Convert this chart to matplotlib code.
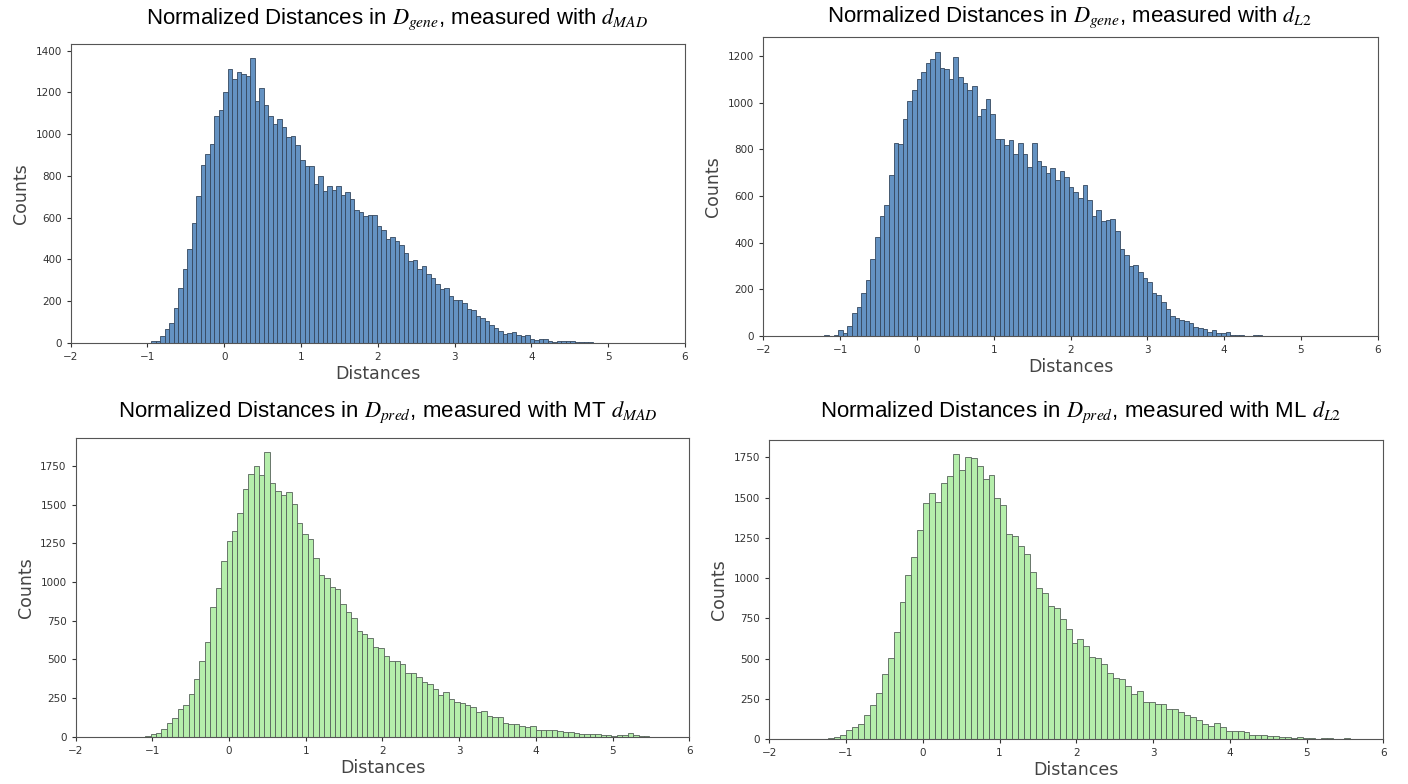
import matplotlib
matplotlib.use("Agg")
import matplotlib.pyplot as plt
import numpy as np

#######################################
#### Data (bar counts)
#######################################
gene_mad_range = (-0.95, 4.80)
gene_mad_counts = [8, 8, 35, 67, 94, 168, 263, 353, 448, 575, 705, 854, 906, 953, 1088,
                   1117, 1202, 1312, 1264, 1296, 1288, 1280, 1363, 1160, 1221, 1141, 1088,
                   1048, 1074, 1034, 985, 990, 950, 875, 849, 849, 763, 798, 726, 753, 734,
                   753, 710, 722, 689, 638, 627, 610, 611, 611, 562, 543, 500, 506, 490,
                   468, 431, 391, 399, 354, 367, 332, 310, 282, 259, 263, 223, 204, 204,
                   193, 163, 158, 128, 120, 104, 88, 70, 59, 45, 46, 51, 37, 32, 37, 21,
                   16, 19, 19, 8, 5, 8, 8, 8, 8, 3, 3, 3, 3]

gene_l2_range = (-1.205, 4.50)
gene_l2_counts = [4, 1, 3, 26, 14, 44, 97, 126, 183, 240, 329, 426, 514, 560, 690, 826,
                  821, 930, 1007, 1054, 1100, 1133, 1171, 1187, 1219, 1147, 1143, 1100,
                  1197, 1109, 1083, 1054, 1071, 944, 973, 1016, 950, 846, 846, 819, 841,
                  780, 826, 780, 726, 826, 751, 729, 700, 719, 669, 709, 680, 640, 619,
                  593, 647, 583, 516, 540, 493, 497, 501, 450, 374, 346, 301, 304, 276,
                  247, 233, 183, 176, 144, 116, 87, 79, 69, 64, 57, 40, 34, 29, 19, 26,
                  11, 11, 16, 3, 3, 4, 1, 0, 3, 3]

pred_mad_range = (-1.094, 5.48)
pred_mad_counts = [6, 17, 22, 47, 90, 118, 177, 205, 276, 375, 489, 610, 840, 959, 1138,
                   1265, 1330, 1444, 1599, 1698, 1750, 1694, 1841, 1642, 1586, 1562, 1584,
                   1502, 1379, 1308, 1280, 1153, 1045, 1024, 965, 953, 856, 804, 765, 683,
                   662, 640, 582, 575, 524, 491, 491, 470, 409, 409, 388, 356, 340, 306,
                   267, 291, 241, 226, 216, 205, 190, 162, 168, 134, 127, 127, 91, 82, 82,
                   71, 60, 71, 41, 41, 41, 41, 39, 30, 28, 24, 19, 19, 19, 17, 13, 11, 6,
                   13, 13, 22, 9, 6, 6]

pred_l2_range = (-1.23, 5.57)
pred_l2_counts = [4, 14, 25, 56, 72, 93, 149, 211, 284, 402, 505, 667, 853, 1019, 1133,
                  1298, 1464, 1530, 1474, 1592, 1633, 1770, 1675, 1750, 1744, 1696, 1613,
                  1640, 1495, 1453, 1277, 1263, 1199, 1153, 1037, 936, 907, 826, 812, 743,
                  681, 594, 619, 578, 511, 505, 464, 408, 381, 373, 331, 280, 300, 232,
                  228, 215, 215, 184, 184, 170, 149, 135, 118, 93, 81, 101, 72, 52, 52,
                  52, 43, 25, 25, 25, 21, 19, 14, 10, 8, 14, 8, 4, 0, 4, 4, 0, 0, 4]

titles = [r"Normalized Distances in $D_{gene}$, measured with $d_{MAD}$",
          r"Normalized Distances in $D_{gene}$, measured with $d_{L2}$",
          r"Normalized Distances in $D_{pred}$, measured with MT $d_{MAD}$",
          r"Normalized Distances in $D_{pred}$, measured with ML $d_{L2}$"]

#######################################
#### Plot
#######################################
plt.rcParams['mathtext.fontset'] = 'stix'
W, H = 1408, 784
fig = plt.figure(figsize=(W/100, H/100), dpi=100)

# axes boxes in pixels: left, top, right, bottom
boxes = [(70.7, 44, 685, 343),
         (763.3, 37.3, 1377.7, 336),
         (75.7, 437.7, 689.3, 736.7),
         (769.3, 440, 1383.3, 739)]
title_xy = [(397, 19), (1070, 17), (388, 412), (1081, 412)]

blue_face, blue_edge = '#6492c2', '#34475e'
green_face, green_edge = '#b5eeab', '#56625a'

panels = [(gene_mad_range, gene_mad_counts, blue_face, blue_edge),
          (gene_l2_range, gene_l2_counts, blue_face, blue_edge),
          (pred_mad_range, pred_mad_counts, green_face, green_edge),
          (pred_l2_range, pred_l2_counts, green_face, green_edge)]

for i, (rng, counts, fc, ec) in enumerate(panels):
   l, t, r, b = boxes[i]
   ax = fig.add_axes([l/W, 1 - b/H, (r - l)/W, (b - t)/H])
   counts = np.array(counts, dtype=float)
   edges = np.linspace(rng[0], rng[1], len(counts) + 1)
   centers = 0.5*(edges[:-1] + edges[1:])
   ax.hist(centers, bins=edges, weights=counts, facecolor=fc, edgecolor=ec, linewidth=0.6)
   ax.set_xlim(-2, 6)
   ax.set_ylim(0, counts.max()*1.05)
   ax.tick_params(labelsize=7.5, length=3, width=0.8, colors='#333333')
   for sp in ax.spines.values():
      sp.set_color('#555555')
   ax.set_xlabel('Distances', fontsize=12.5, color='#444444', labelpad=2)
   ax.set_ylabel('Counts', fontsize=12.5, color='#444444')
   tx, ty = title_xy[i]
   fig.text(tx/W, 1 - ty/H, titles[i], ha='center', va='center',
            fontsize=16, family='Liberation Sans')

fig.savefig('out.png', dpi=100)
